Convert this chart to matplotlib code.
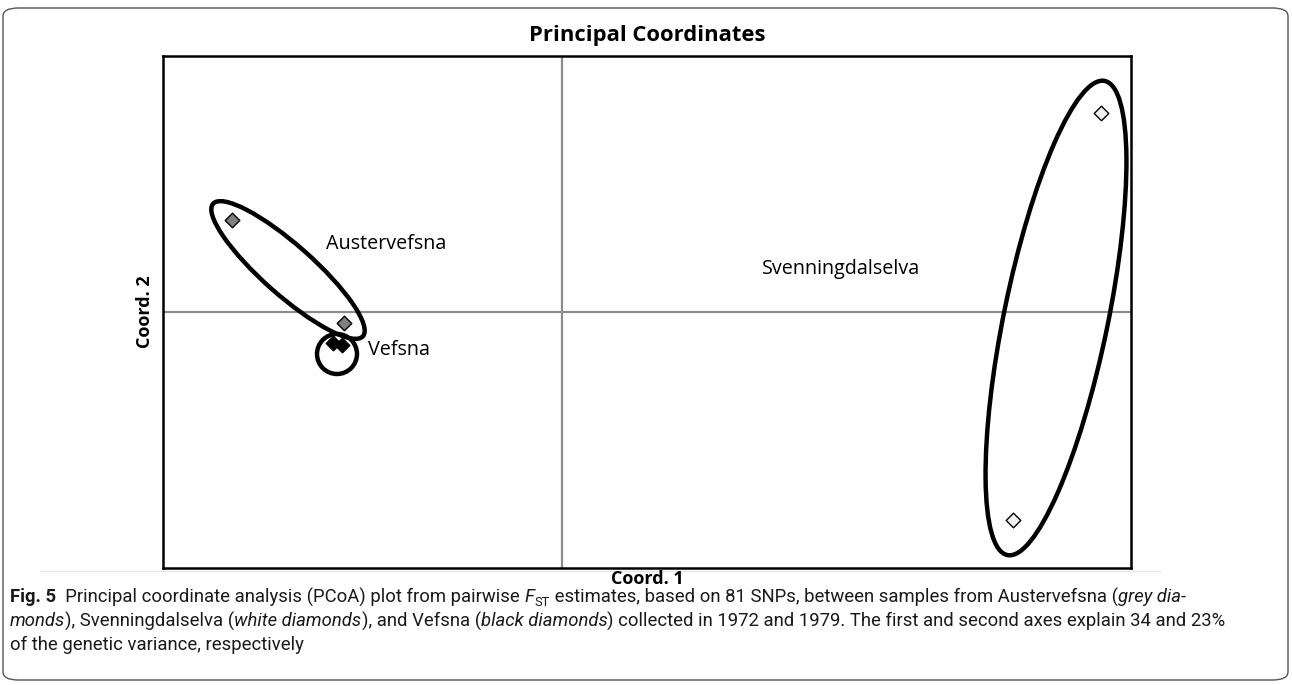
import matplotlib
matplotlib.use('Agg')
from matplotlib import pyplot as plt
from matplotlib.patches import Ellipse, FancyBboxPatch

# PCoA coordinates
aust_x = [-0.330, -0.218]
aust_y = [0.092, -0.011]
vefs_x = [-0.229, -0.220]
vefs_y = [-0.031, -0.033]
sven_x = [0.539, 0.451]
sven_y = [0.199, -0.208]

# group ellipses: centre x, centre y, width, height, angle
ell_x = [-0.274, -0.225, 0.494]
ell_y = [0.042, -0.042, -0.006]
ell_w = [0.200, 0.040, 0.104]
ell_h = [0.050, 0.040, 0.484]
ell_ang = [-41.5, 0.0, -11.6]

group_names = ['Austervefsna', 'Vefsna', 'Svenningdalselva']
label_x = [-0.236, -0.194, 0.200]
label_y = [0.068, -0.038, 0.043]

xlim = (-0.399, 0.569)
ylim = (-0.256, 0.256)

font = 'Open Sans'
cap_font = 'Roboto'

fig = plt.figure(figsize=(12.92, 6.85), dpi=100)

box = FancyBboxPatch((3 / 1292, 5 / 685), 1285 / 1292, 672 / 685,
                     boxstyle='round,pad=0,rounding_size=0.012',
                     transform=fig.transFigure, facecolor='none',
                     edgecolor='#555555', linewidth=1.0, zorder=0)
fig.patches.append(box)

ax = fig.add_axes([163 / 1292, (685 - 568) / 685, 968 / 1292, 512 / 685])
ax.set_xlim(*xlim)
ax.set_ylim(*ylim)
ax.axhline(0, color='#8c8c8c', lw=1.6, zorder=1)
ax.axvline(0, color='#8c8c8c', lw=1.6, zorder=1)
for s in ax.spines.values():
    s.set_linewidth(1.8)
ax.set_xticks([])
ax.set_yticks([])

for i in range(len(ell_x)):
    ax.add_patch(Ellipse((ell_x[i], ell_y[i]), ell_w[i], ell_h[i],
                         angle=ell_ang[i], fill=False, edgecolor='black',
                         lw=3.2, zorder=2))

ax.scatter(aust_x, aust_y, marker='D', s=55, color='#7f7f7f',
           edgecolor='black', lw=1.0, zorder=3)
ax.scatter(sven_x, sven_y, marker='D', s=55, color='#f2f2f2',
           edgecolor='black', lw=1.0, zorder=3)
ax.scatter(vefs_x, vefs_y, marker='D', s=55, color='black',
           edgecolor='black', lw=1.0, zorder=3)

for i in range(len(group_names)):
    ax.text(label_x[i], label_y[i], group_names[i], fontsize=14.2,
            family=font, va='center', ha='left')

fig.text(647 / 1292, 1 - 36 / 685, 'Principal Coordinates', ha='center',
         va='center', fontsize=15.8, fontweight='bold', family=font)
fig.text(647 / 1292, 1 - 579 / 685, 'Coord. 1', ha='center', va='center',
         fontsize=13, fontweight='bold', family=font)
fig.text(145 / 1292, 1 - 312 / 685, 'Coord. 2', ha='center', va='center',
         rotation=90, fontsize=13, fontweight='bold', family=font)

# faint line under the chart image
fig.add_artist(plt.Line2D([40 / 1292, 1160 / 1292], [1 - 571 / 685] * 2,
                          transform=fig.transFigure, color='#e6e6e6', lw=1))

# caption, written piece by piece so styles can change mid-line
caption = [
    [('Fig. 5', 'bold', 'normal'),
     ('  Principal coordinate analysis (PCoA) plot from pairwise ', 'normal', 'normal'),
     ('F', 'normal', 'italic'), ('ST', 'sub', 'normal'),
     (' estimates, based on 81 SNPs, between samples from Austervefsna (', 'normal', 'normal'),
     ('grey dia-', 'normal', 'italic')],
    [('monds', 'normal', 'italic'),
     ('), Svenningdalselva (', 'normal', 'normal'),
     ('white diamonds', 'normal', 'italic'),
     ('), and Vefsna (', 'normal', 'normal'),
     ('black diamonds', 'normal', 'italic'),
     (') collected in 1972 and 1979. The first and second axes explain 34 and 23%', 'normal', 'normal')],
    [('of the genetic variance, respectively', 'normal', 'normal')],
]
line_y = [597, 621, 645]
cap_size = 13.3

fig.canvas.draw()
renderer = fig.canvas.get_renderer()
inv = fig.transFigure.inverted()
for row, py in zip(caption, line_y):
    x = 10 / 1292
    y = 1 - py / 685
    for txt, kind, style in row:
        size = cap_size
        yy = y
        weight = 'normal'
        if kind == 'bold':
            weight = 'bold'
        if kind == 'sub':
            size = cap_size * 0.7
            yy = y - 5 / 685
        t = fig.text(x, yy, txt, fontsize=size, fontweight=weight,
                     fontstyle=style, family=cap_font, va='center',
                     ha='left', color='#1a1a1a')
        bb = t.get_window_extent(renderer)
        x = inv.transform((bb.x1, bb.y0))[0]

fig.savefig('out.png', dpi=100)
